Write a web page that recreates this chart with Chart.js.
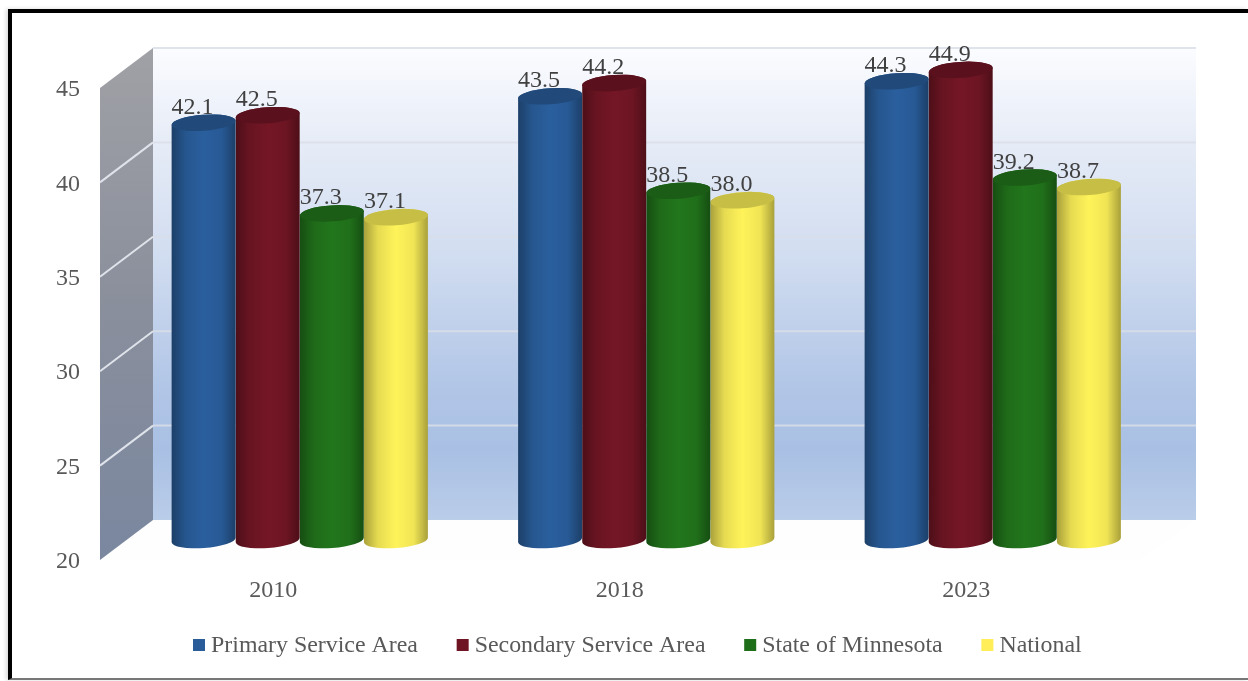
<!DOCTYPE html>
<html lang="en">
<head>
<meta charset="UTF-8">
<title>Median age</title>
<script src="https://cdn.jsdelivr.net/npm/chart.js@4"></script>
<style>
  html, body { margin: 0; padding: 0; background: #fff; overflow: hidden; }
  #frame { position: absolute; left: 8px; top: 9px; width: 1240px; height: 671px; border-left: 4px solid #000; border-top: 4px solid #000; border-bottom: 2px solid #777; box-sizing: border-box; box-shadow: -2px 0 4px rgba(0,0,0,.15); }
  #myChart { position: absolute; left: 0; top: 0; }
</style>
</head>
<body>
<div id="frame"></div>
<canvas id="myChart" width="1248" height="681"></canvas>
<script>
const categories = ['2010', '2018', '2023'];
const seriesNames = ['Primary Service Area', 'Secondary Service Area', 'State of Minnesota', 'National'];
const primaryValues = [42.1, 43.5, 44.3];
const secondaryValues = [42.5, 44.2, 44.9];
const stateValues = [37.3, 38.5, 39.2];
const nationalValues = [37.1, 38.0, 38.7];
const yTicks = [20, 25, 30, 35, 40, 45];

const seriesColors = ['#2a5f9e', '#741625', '#22761c', '#fff35a'];
const legendColors = ['#2b5c9a', '#6e1423', '#1f6e1a', '#ffee58'];
const FONT = '"Liberation Serif", "Times New Roman", serif';
const DEPTH_X = 53, DEPTH_Y = 40;   // how far the back wall sits behind the front plane
const WALL_EXTRA = 3.5;             // back wall runs a little past the last category

function shade(hex, f) {
  const n = parseInt(hex.slice(1), 16);
  const c = [n >> 16, (n >> 8) & 255, n & 255].map(v => Math.round(v * f));
  return 'rgb(' + c.join(',') + ')';
}

// bars are cylinders standing half way into the box
class CylinderBar extends Chart.BarElement {
  draw(ctx) {
    const { x, y, base, width } = this.getProps(['x', 'y', 'base', 'width']);
    const color = this.options.backgroundColor;
    const cx = x + DEPTH_X / 2, top = y - DEPTH_Y / 2, bottom = base - DEPTH_Y / 2;
    const rx = width / 2, ry = 8, tilt = -0.07;
    const dy = rx * Math.sin(tilt), dx = rx * Math.cos(tilt);

    const g = ctx.createLinearGradient(cx - rx, 0, cx + rx, 0);
    g.addColorStop(0, shade(color, 0.66));
    g.addColorStop(0.22, shade(color, 0.9));
    g.addColorStop(0.5, shade(color, 1));
    g.addColorStop(0.78, shade(color, 0.94));
    g.addColorStop(1, shade(color, 0.66));

    ctx.save();
    ctx.beginPath();
    ctx.moveTo(cx - dx, top - dy);
    ctx.lineTo(cx - dx, bottom - dy);
    ctx.ellipse(cx, bottom, rx, ry, tilt, Math.PI, 0, true);
    ctx.lineTo(cx + dx, top + dy);
    ctx.ellipse(cx, top, rx, ry, tilt, 0, Math.PI, true);
    ctx.closePath();
    ctx.fillStyle = g;
    ctx.fill();

    ctx.beginPath();
    ctx.ellipse(cx, top, rx, ry, tilt, 0, Math.PI * 2);
    ctx.fillStyle = shade(color, 0.78);
    ctx.fill();
    ctx.restore();
  }
}
CylinderBar.id = 'cylinderBar';
CylinderBar.defaults = Chart.BarElement.defaults;
Chart.register(CylinderBar);
Chart.defaults.datasets.bar.dataElementType = 'cylinderBar';

const box3d = {
  id: 'box3d',
  beforeDatasetsDraw(chart) {
    const ctx = chart.ctx, a = chart.chartArea, yScale = chart.scales.y;
    const backL = a.left + DEPTH_X, backR = a.right + DEPTH_X + WALL_EXTRA;
    const backT = a.top - DEPTH_Y, backB = a.bottom - DEPTH_Y;
    ctx.save();

    // floor
    ctx.fillStyle = '#fefefe';
    ctx.beginPath();
    ctx.moveTo(a.left, a.bottom); ctx.lineTo(backL, backB); ctx.lineTo(backR, backB); ctx.lineTo(a.right, a.bottom);
    ctx.closePath(); ctx.fill();

    // back wall
    const wall = ctx.createLinearGradient(0, backT, 0, backB);
    wall.addColorStop(0, '#fbfcff');
    wall.addColorStop(0.2, '#e6ecf7');
    wall.addColorStop(0.45, '#d0dcf0');
    wall.addColorStop(0.7, '#b3c7e7');
    wall.addColorStop(0.85, '#a9c0e4');
    wall.addColorStop(1, '#bacde9');
    ctx.fillStyle = wall;
    ctx.fillRect(backL, backT, backR - backL, backB - backT);

    // left wall
    const side = ctx.createLinearGradient(0, backT, 0, a.bottom);
    side.addColorStop(0, '#a0a1a6');
    side.addColorStop(0.5, '#8a8f9c');
    side.addColorStop(1, '#7a879f');
    ctx.fillStyle = side;
    ctx.beginPath();
    ctx.moveTo(a.left, a.top); ctx.lineTo(backL, backT); ctx.lineTo(backL, backB); ctx.lineTo(a.left, a.bottom);
    ctx.closePath(); ctx.fill();

    // grid lines follow the y scale round both walls
    yScale.ticks.forEach(t => {
      if (t.value === yTicks[0]) return;
      const py = yScale.getPixelForValue(t.value);
      ctx.lineWidth = 2;
      ctx.strokeStyle = 'rgba(217,222,232,0.85)';
      ctx.beginPath();
      ctx.moveTo(backL, py - DEPTH_Y); ctx.lineTo(backR, py - DEPTH_Y);
      ctx.stroke();
      if (t.value < yTicks[yTicks.length - 1]) {
        ctx.strokeStyle = '#dfe3ea';
        ctx.beginPath();
        ctx.moveTo(a.left, py); ctx.lineTo(backL, py - DEPTH_Y);
        ctx.stroke();
      }
    });
    ctx.restore();
  },
  // value label goes under its own cylinder, over the ones already drawn
  beforeDatasetDraw(chart, args) {
    const ctx = chart.ctx, ds = chart.data.datasets[args.index];
    ctx.save();
    ctx.font = '24px ' + FONT;
    ctx.fillStyle = '#404040';
    ctx.textAlign = 'center';
    ctx.textBaseline = 'alphabetic';
    args.meta.data.forEach((bar, i) => {
      ctx.fillText(ds.data[i].toFixed(1), bar.x + DEPTH_X / 2 - 11, bar.y - DEPTH_Y / 2 - 9);
    });
    ctx.restore();
  },
  afterDraw(chart) {
    const ctx = chart.ctx;
    let x = 193;
    ctx.save();
    ctx.font = '23.9px ' + FONT;
    ctx.textBaseline = 'middle';
    seriesNames.forEach((name, i) => {
      ctx.fillStyle = legendColors[i];
      ctx.fillRect(x, 639, 12, 12);
      ctx.fillStyle = '#595959';
      ctx.fillText(name, x + 18, 646);
      x += 18 + ctx.measureText(name).width + 38.7;
    });
    ctx.restore();
  }
};

new Chart(document.getElementById('myChart'), {
  type: 'bar',
  data: {
    labels: categories,
    datasets: [primaryValues, secondaryValues, stateValues, nationalValues].map((values, i) => ({
      label: seriesNames[i],
      data: values,
      base: yTicks[0],
      backgroundColor: seriesColors[i],
      clip: false
    }))
  },
  options: {
    responsive: false,
    animation: false,
    layout: { padding: { left: 0, right: 108.5, top: 88, bottom: 61 } },
    datasets: { bar: { categoryPercentage: 0.74, barPercentage: 1 } },
    scales: {
      x: {
        grid: { display: false },
        border: { display: false },
        ticks: { color: '#595959', font: { family: FONT, size: 24 }, padding: 8 },
        afterFit: s => { s.height = 60; }
      },
      y: {
        min: 20,
        max: 45,
        grid: { display: false },
        border: { display: false },
        afterBuildTicks: s => { s.ticks = yTicks.map(v => ({ value: v })); },
        ticks: { color: '#595959', font: { family: FONT, size: 24 }, padding: 12, labelOffset: 2 },
        afterFit: s => { s.width = 100; }
      }
    },
    plugins: { legend: { display: false }, tooltip: { enabled: false } }
  },
  plugins: [box3d]
});
</script>
</body>
</html>
